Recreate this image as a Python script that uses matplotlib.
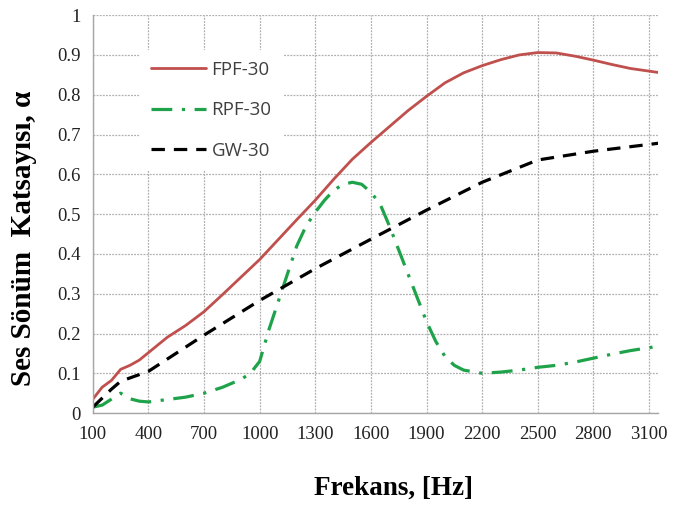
import matplotlib
matplotlib.use("Agg")
import matplotlib.pyplot as plt

# ---- data ----
fpf_x = [100, 150, 200, 250, 300, 350, 400, 500, 600, 700, 800, 900, 1000, 1100, 1200, 1300,
         1400, 1500, 1600, 1700, 1800, 1900, 2000, 2100, 2200, 2300, 2400, 2500, 2600, 2700,
         2800, 2900, 3000, 3150]
fpf_y = [0.035, 0.065, 0.082, 0.11, 0.12, 0.133, 0.152, 0.19, 0.22, 0.255, 0.298, 0.342, 0.386,
         0.436, 0.486, 0.535, 0.588, 0.638, 0.68, 0.72, 0.76, 0.796, 0.83, 0.855, 0.873, 0.888,
         0.9, 0.906, 0.905, 0.897, 0.887, 0.876, 0.866, 0.856]

rpf_x = [100, 150, 200, 250, 300, 350, 400, 500, 600, 700, 800, 900, 950, 1000, 1050, 1100,
         1150, 1200, 1250, 1300, 1350, 1400, 1450, 1500, 1550, 1600, 1650, 1700, 1750, 1800,
         1850, 1900, 1950, 2000, 2050, 2100, 2200, 2300, 2400, 2500, 2600, 2700, 2800, 2900,
         3000, 3150]
rpf_y = [0.015, 0.02, 0.035, 0.05, 0.036, 0.03, 0.028, 0.034, 0.04, 0.05, 0.065, 0.085, 0.1,
         0.13, 0.21, 0.28, 0.35, 0.42, 0.47, 0.505, 0.535, 0.56, 0.575, 0.58, 0.575, 0.555,
         0.525, 0.47, 0.41, 0.35, 0.29, 0.23, 0.18, 0.142, 0.12, 0.108, 0.1, 0.103, 0.108,
         0.115, 0.12, 0.128, 0.138, 0.148, 0.157, 0.168]

gw_x = [100, 200, 250, 400, 700, 1000, 1300, 1600, 1900, 2200, 2500, 2800, 3150]
gw_y = [0.015, 0.06, 0.08, 0.105, 0.196, 0.283, 0.363, 0.437, 0.51, 0.58, 0.636, 0.658, 0.678]

labels = ["FPF-30", "RPF-30", "GW-30"]
xticks = [100, 400, 700, 1000, 1300, 1600, 1900, 2200, 2500, 2800, 3100]
yticks = [0, 0.1, 0.2, 0.3, 0.4, 0.5, 0.6, 0.7, 0.8, 0.9, 1]
ytick_labels = ["0", "0.1", "0.2", "0.3", "0.4", "0.5", "0.6", "0.7", "0.8", "0.9", "1"]

fig = plt.figure(figsize=(6.73, 5.05), dpi=100)
ax = fig.add_axes([0.138, 0.182, 0.840, 0.788])

ax.plot(fpf_x, fpf_y, color="#C0504D", lw=2.0, label=labels[0], solid_capstyle="round")
ax.plot(rpf_x, rpf_y, color="#1FA34A", lw=2.3, label=labels[1], dashes=(6.5, 3, 1, 3))
ax.plot(gw_x, gw_y, color="black", lw=2.3, label=labels[2], dashes=(4.2, 2.8))

ax.set_xlim(100, 3150)
ax.set_ylim(0, 1)
ax.set_xticks(xticks)
ax.set_yticks(yticks)
ax.set_yticklabels(ytick_labels)
ax.grid(True, color="#b0b0b0", linestyle=(0, (1.5, 1)), lw=0.9)
ax.set_axisbelow(True)
for s in ["top", "right"]:
    ax.spines[s].set_visible(False)
for s in ["left", "bottom"]:
    ax.spines[s].set_color("#a6a6a6")
    ax.spines[s].set_linewidth(1.0)
ax.tick_params(length=0, pad=9)
for t in ax.get_xticklabels() + ax.get_yticklabels():
    t.set_fontfamily("Liberation Serif")
    t.set_fontsize(13.5)
    t.set_color("#222222")

fig.text(393 / 673, 1 - 488 / 505, "Frekans, [Hz]", family="Liberation Serif",
         weight="bold", size=19.5, ha="center", va="center")
fig.text(24 / 673, 1 - 238 / 505, "Ses Sönüm  Katsayısı, α", family="Liberation Serif",
         weight="bold", size=21, ha="center", va="center", rotation=90)

leg = ax.legend(loc="upper left", bbox_to_anchor=(0.067, 0.937), frameon=True,
                prop={"family": "Open Sans", "size": 13.5}, labelspacing=1.2,
                handlelength=2.9, handletextpad=0.3, borderpad=0.6, fancybox=False)
leg.get_frame().set_edgecolor("none")
leg.get_frame().set_facecolor("white")
leg.get_frame().set_alpha(1)
for t in leg.get_texts():
    t.set_color("#404040")

fig.savefig("out.png", dpi=100)
